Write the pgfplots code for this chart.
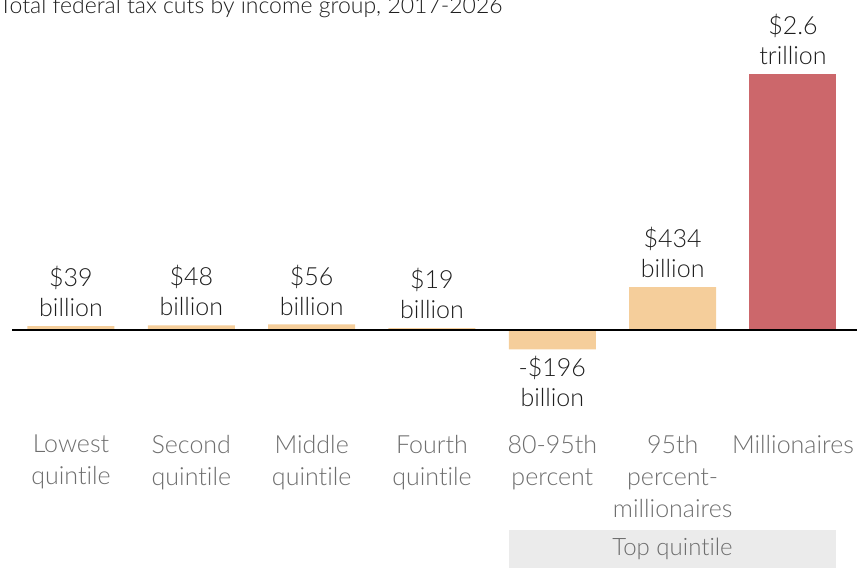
\documentclass[border=0pt]{standalone}
\usepackage{pgfplots}
\pgfplotsset{compat=1.18}
\usepackage{fontspec}
\setmainfont{Lato Light}[Ligatures=NoCommon]
\definecolor{barorange}{HTML}{F5CE9B}
\definecolor{barred}{HTML}{CC676B}
\definecolor{labelgray}{HTML}{6E6E6E}
\definecolor{ink}{HTML}{1E1E1E}
\definecolor{bandgray}{HTML}{EBEBEB}

\tikzset{
    vlab/.style={inner sep=0pt, align=center,
        text=ink, font=\fontsize{25}{30}\selectfont},
    clab/.style={anchor=north, inner sep=0pt, align=center,
        text=labelgray, font=\fontsize{25}{32}\selectfont},
}

\begin{document}
\begin{tikzpicture}
    \begin{axis}
        [
        width=857pt, height=568pt, scale only axis,
        xmin=-0.590, xmax=6.532,
        ymin=-2416, ymax=3350,
        axis lines=none, ticks=none,
        ybar, bar width=87pt, bar shift=0pt,
        clip=false,
        ]
        % band under the top quintile groups
        \fill[bandgray] (axis cs:3.640,-2030) rectangle (axis cs:6.358,-2416);

        \addplot[fill=barorange, draw=none] coordinates {
            (0,39) (1,48) (2,56) (3,19) (4,-196) (5,434)};
        \addplot[fill=barred, draw=none] coordinates {(6,2600)};

        \draw[black, line width=2.5pt] (axis cs:-0.49,0) -- (axis cs:6.532,0);

        % title (cut at the top, as in the source)
        \node[anchor=base west, inner sep=0pt, text=ink,
            font=\fontsize{23}{28}\selectfont]
            at (axis cs:-0.598,3208) {Total federal tax cuts by income group, 2017-2026};

        % value labels
        \node[vlab, anchor=south, yshift=9pt] at (axis cs:0,39) {\$39\\billion};
        \node[vlab, anchor=south, yshift=9pt] at (axis cs:1,48) {\$48\\billion};
        \node[vlab, anchor=south, yshift=9pt] at (axis cs:2,56) {\$56\\billion};
        \node[vlab, anchor=south, yshift=9pt] at (axis cs:3,19) {\$19\\billion};
        \node[vlab, anchor=north, yshift=-7pt] at (axis cs:4,-196) {-\$196\\billion};
        \node[vlab, anchor=south, yshift=9pt] at (axis cs:5,434) {\$434\\billion};
        \node[vlab, anchor=south, yshift=9pt] at (axis cs:6,2600) {\$2.6\\trillion};

        % category labels
        \node[clab] at (axis cs:0,-1066) {Lowest\\quintile};
        \node[clab] at (axis cs:1,-1066) {Second\\quintile};
        \node[clab] at (axis cs:2,-1066) {Middle\\quintile};
        \node[clab] at (axis cs:3,-1066) {Fourth\\quintile};
        \node[clab] at (axis cs:4,-1066) {80-95th\\percent};
        \node[clab] at (axis cs:5,-1066) {95th\\percent-\\millionaires};
        \node[clab] at (axis cs:6,-1066) {Millionaires};

        \node[inner sep=0pt, text=labelgray, font=\fontsize{24}{28}\selectfont]
            at (axis cs:4.999,-2223) {Top quintile};
    \end{axis}
    \pgfresetboundingbox
    \useasboundingbox (current axis.south west) rectangle (current axis.north east);
\end{tikzpicture}
\end{document}
